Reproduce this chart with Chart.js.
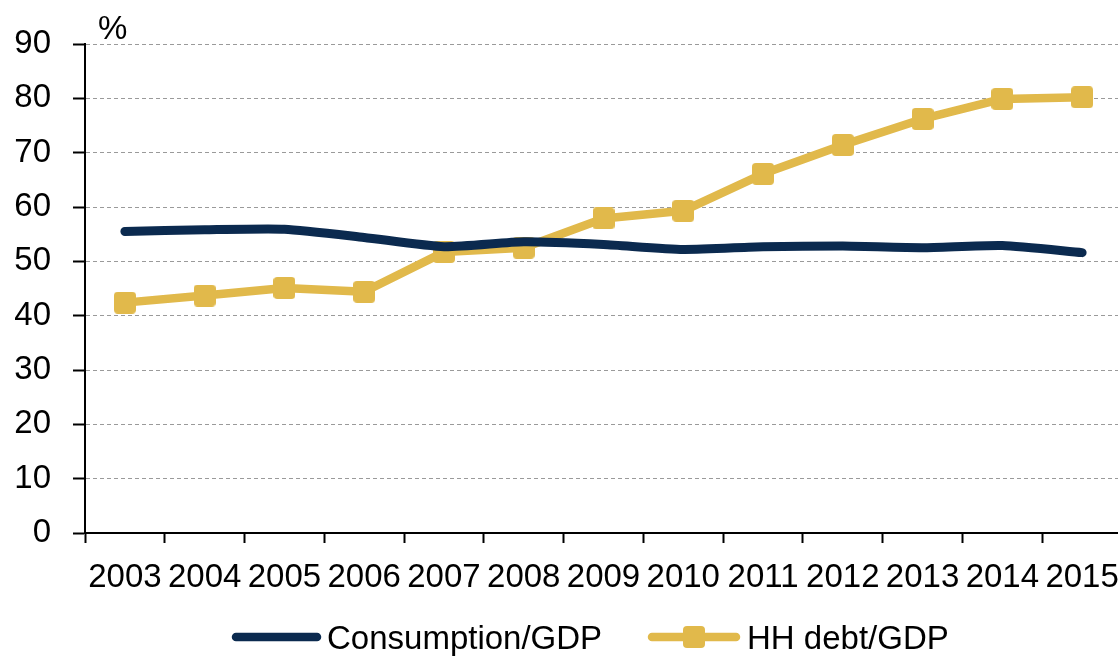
<!DOCTYPE html>
<html>
<head>
<meta charset="utf-8">
<script src="https://cdn.jsdelivr.net/npm/chart.js@4/dist/chart.umd.min.js"></script>
<style>
  html, body { margin: 0; padding: 0; background: #fff; overflow: hidden; }
  .wrap { width: 1118px; height: 656px; overflow: hidden; }
  .box { width: 1122px; height: 656px; }
</style>
</head>
<body>
<div class="wrap"><div class="box"><canvas id="ratios"></canvas></div></div>
<script>
const years = ["2003", "2004", "2005", "2006", "2007", "2008", "2009", "2010", "2011", "2012", "2013", "2014", "2015"];
const consumption = [55.5, 55.8, 55.9, 54.4, 52.7, 53.6, 53.1, 52.2, 52.7, 52.8, 52.5, 52.9, 51.6];
const hhDebt = [42.4, 43.7, 45.1, 44.4, 51.7, 52.5, 57.9, 59.3, 66.1, 71.4, 76.2, 79.9, 80.2];
const yTicks = [0, 10, 20, 30, 40, 50, 60, 70, 80, 90];

const navy = "#0b2a4f";
const gold = "#e1b94b";
const font = "'Liberation Sans', Arial, sans-serif";
const fontSize = 33;

// rounded square marker for the debt series
function makeMarker(size, r, color) {
  const c = document.createElement("canvas");
  c.width = size;
  c.height = size;
  const g = c.getContext("2d");
  g.fillStyle = color;
  g.beginPath();
  g.roundRect(0, 0, size, size, r);
  g.fill();
  return c;
}
const marker = makeMarker(22, 4, gold);

// "%" unit over the y axis and the legend under the x labels
const extras = {
  id: "extras",
  afterDraw(chart) {
    const ctx = chart.ctx;
    const ds = chart.data.datasets;
    ctx.save();
    ctx.fillStyle = "#000";
    ctx.font = fontSize + "px " + font;
    ctx.textBaseline = "alphabetic";
    ctx.fillText("%", 98, 39);

    ctx.lineCap = "round";
    ctx.lineWidth = 8.5;
    ctx.strokeStyle = ds[0].borderColor;
    ctx.beginPath();
    ctx.moveTo(236, 637);
    ctx.lineTo(317, 637);
    ctx.stroke();
    ctx.fillText(ds[0].label, 327, 649);

    ctx.strokeStyle = ds[1].borderColor;
    ctx.beginPath();
    ctx.moveTo(652, 637);
    ctx.lineTo(736, 637);
    ctx.stroke();
    ctx.drawImage(marker, 694 - 11, 637 - 11);
    ctx.fillText(ds[1].label, 747, 649);
    ctx.restore();
  }
};

new Chart(document.getElementById("ratios"), {
  type: "line",
  data: {
    labels: years,
    datasets: [{
      label: "Consumption/GDP",
      data: consumption,
      borderColor: navy,
      borderWidth: 9,
      borderCapStyle: "round",
      pointRadius: 0,
      tension: 0.2
    }, {
      label: "HH debt/GDP",
      data: hhDebt,
      borderColor: gold,
      borderWidth: 8.5,
      borderJoinStyle: "round",
      pointStyle: marker,
      pointRadius: 11,
      tension: 0
    }]
  },
  options: {
    responsive: true,
    maintainAspectRatio: false,
    animation: false,
    layout: { autoPadding: false, padding: { top: 44, left: 0, right: 0, bottom: 0 } },
    plugins: {
      legend: { display: false },
      tooltip: { enabled: false }
    },
    scales: {
      x: {
        offset: true,
        afterFit: (scale) => {
          scale.height = 123;
          scale.paddingLeft = 0;
          scale.paddingRight = 0;
        },
        grid: {
          offset: true,
          drawOnChartArea: false,
          tickLength: 10,
          tickColor: "#000",
          tickWidth: 2
        },
        border: { color: "#000", width: 2 },
        ticks: {
          color: "#000",
          padding: 15,
          maxRotation: 0,
          autoSkip: false,
          font: { family: font, size: fontSize }
        }
      },
      y: {
        min: 0,
        max: 90,
        afterFit: (scale) => { scale.width = 85; },
        afterBuildTicks: (scale) => { scale.ticks = yTicks.map((v) => ({ value: v })); },
        grid: {
          color: "#9a9a9a",
          lineWidth: 1,
          tickLength: 12,
          tickColor: "#000",
          tickWidth: 2
        },
        border: { color: "#000", width: 2, dash: [4, 3] },
        ticks: {
          color: "#000",
          padding: 22,
          font: { family: font, size: fontSize }
        }
      }
    }
  },
  plugins: [extras]
});
</script>
</body>
</html>
